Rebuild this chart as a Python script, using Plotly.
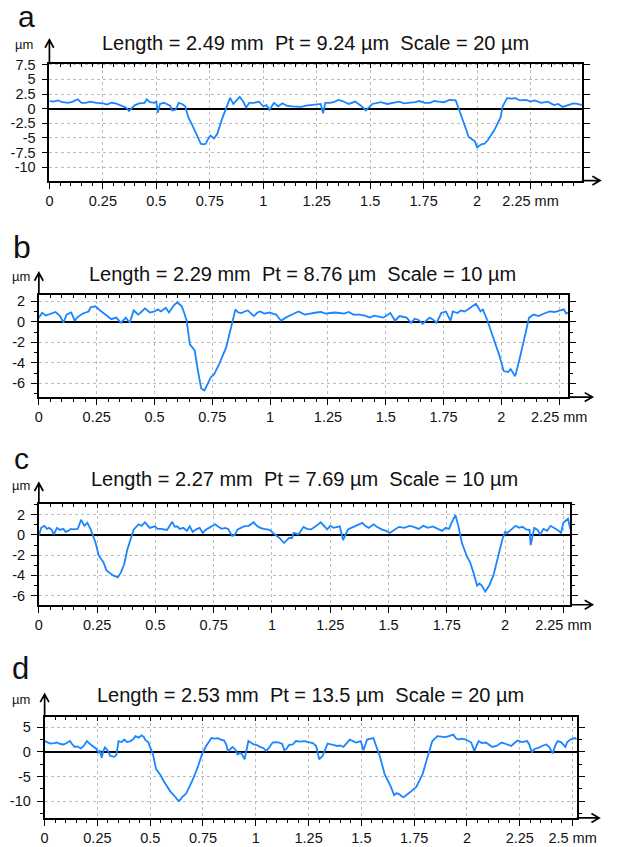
import plotly.graph_objects as go

W, H = 623, 847
OFF = 8  # page body margin in the browser

# ---------------- data ----------------
xa = [0.0,0.02,0.04,0.06,0.088,0.11,0.133,0.15,0.17,0.19,0.22,0.25,0.27,0.29,0.31,0.33,0.357,0.372,0.385,0.40,
      0.42,0.445,0.455,0.47,0.49,0.50,0.507,0.517,0.535,0.55,0.565,0.574,0.59,0.605,0.62,0.635,0.65,0.673,0.695,0.708,
      0.72,0.731,0.745,0.753,0.77,0.785,0.807,0.822,0.835,0.845,0.86,0.875,0.89,0.905,0.92,0.935,0.955,0.98,1.0,1.015,
      1.03,1.05,1.07,1.09,1.11,1.134,1.16,1.179,1.2,1.224,1.25,1.269,1.28,1.29,1.31,1.33,1.35,1.37,1.40,1.43,
      1.46,1.48,1.51,1.53,1.55,1.58,1.61,1.635,1.66,1.69,1.71,1.73,1.755,1.78,1.80,1.82,1.845,1.87,1.90,1.91,
      1.93,1.95,1.96,1.99,2.00,2.01,2.02,2.035,2.05,2.08,2.11,2.12,2.14,2.16,2.18,2.20,2.23,2.25,2.27,2.30,
      2.33,2.36,2.38,2.40,2.42,2.45,2.47,2.49]
ya = [1.3,1.2,1.4,1.1,1.0,1.2,1.6,1.0,1.0,1.2,1.0,0.9,0.7,1.0,0.9,0.6,0.2,-0.4,0.1,0.6,
      0.9,1.0,1.6,1.1,1.0,1.2,-0.7,0.8,1.0,0.8,0.5,-0.3,-0.2,1.0,0.8,0.4,-1.5,-3.2,-5.1,-6.0,
      -6.1,-6.0,-5.0,-4.6,-5.1,-4.3,-1.8,-0.4,1.0,1.85,0.8,1.5,2.0,1.3,0.2,1.0,1.0,1.2,0.4,0.6,
      -0.2,1.0,0.4,0.9,0.5,0.4,0.3,0.3,0.5,0.6,0.7,0.8,-0.8,1.0,1.0,1.1,1.5,1.3,0.8,1.2,
      0.4,-0.3,0.8,0.9,1.1,0.8,1.0,1.2,0.9,1.0,1.1,1.3,1.0,1.0,1.3,1.2,1.1,1.5,1.4,0.4,
      -1.5,-3.7,-4.8,-5.6,-6.6,-6.3,-6.1,-6.0,-5.4,-3.7,-1.5,0.4,1.8,1.7,1.8,1.4,1.5,1.2,1.4,1.0,
      1.2,0.6,0.8,0.3,0.5,0.9,0.8,0.6]

xb = [0.0,0.014,0.03,0.044,0.06,0.072,0.085,0.093,0.106,0.12,0.14,0.155,0.165,0.175,0.19,0.203,0.215,0.224,0.245,0.265,
      0.286,0.30,0.314,0.335,0.355,0.376,0.393,0.41,0.43,0.445,0.459,0.48,0.50,0.515,0.528,0.549,0.563,0.584,0.598,0.608,
      0.618,0.628,0.639,0.653,0.674,0.688,0.702,0.716,0.726,0.735,0.744,0.758,0.78,0.81,0.82,0.836,0.85,0.862,0.876,0.89,
      0.904,0.918,0.93,0.945,0.957,0.975,0.998,1.012,1.026,1.047,1.067,1.095,1.123,1.15,1.178,1.2,1.22,1.24,1.26,1.28,
      1.30,1.32,1.34,1.36,1.385,1.41,1.43,1.45,1.47,1.49,1.52,1.54,1.56,1.59,1.61,1.625,1.64,1.66,1.69,1.705,
      1.72,1.74,1.76,1.78,1.79,1.81,1.825,1.84,1.855,1.87,1.89,1.91,1.92,1.94,1.96,1.99,2.01,2.03,2.04,2.05,
      2.06,2.08,2.10,2.12,2.14,2.16,2.19,2.21,2.23,2.25,2.27,2.28,2.29]
yb = [0.4,0.87,0.6,0.7,0.8,0.95,0.7,0.5,-0.1,0.7,0.9,0.1,0.4,0.55,0.8,0.9,1.0,1.4,1.5,1.1,
      0.7,0.5,0.25,0.4,-0.1,0.4,-0.1,1.1,0.7,1.0,1.3,0.9,1.0,1.2,1.0,1.35,0.9,1.6,1.9,1.7,
      1.5,0.9,0.1,-2.2,-2.8,-4.8,-6.5,-6.7,-6.2,-5.9,-5.4,-5.1,-4.1,-2.5,-1.5,0.1,1.2,0.9,0.85,1.0,
      1.1,0.8,0.55,0.9,1.0,0.8,0.9,0.8,0.7,0.1,0.4,0.7,1.0,0.7,0.85,0.9,0.95,0.8,0.85,0.9,
      0.85,0.8,0.95,0.7,0.7,0.6,0.4,0.6,0.5,0.4,0.85,0.1,0.55,0.4,-0.1,0.3,0.2,-0.2,0.4,0.2,
      -0.1,0.85,1.0,0.1,1.0,0.85,1.1,1.0,1.2,1.4,1.75,1.0,1.2,0.1,-1.2,-3.2,-4.8,-4.9,-4.6,-5.0,
      -5.3,-3.5,-1.5,0.4,0.7,0.55,0.85,1.0,0.95,1.1,1.2,0.8,0.9]

xc = [0.0,0.01,0.023,0.035,0.044,0.055,0.064,0.078,0.09,0.105,0.115,0.126,0.137,0.147,0.167,0.181,0.195,0.208,0.222,0.243,
      0.257,0.277,0.29,0.305,0.318,0.33,0.339,0.352,0.366,0.38,0.393,0.407,0.428,0.44,0.455,0.476,0.497,0.51,0.524,0.55,
      0.572,0.583,0.593,0.605,0.62,0.635,0.647,0.66,0.675,0.69,0.703,0.715,0.73,0.745,0.757,0.77,0.785,0.80,0.812,0.829,
      0.84,0.853,0.867,0.88,0.90,0.922,0.935,0.95,0.965,0.976,0.99,1.004,1.02,1.032,1.052,1.065,1.073,1.086,1.093,1.114,
      1.135,1.15,1.168,1.19,1.209,1.237,1.25,1.264,1.291,1.305,1.326,1.34,1.353,1.37,1.388,1.40,1.415,1.436,1.45,1.47,
      1.49,1.505,1.526,1.545,1.567,1.59,1.608,1.63,1.649,1.67,1.69,1.71,1.73,1.745,1.76,1.77,1.787,1.80,1.815,1.836,
      1.85,1.864,1.88,1.89,1.90,1.915,1.932,1.95,1.97,1.99,2.0,2.01,2.03,2.045,2.06,2.075,2.09,2.105,2.11,2.125,
      2.14,2.15,2.165,2.18,2.195,2.21,2.225,2.24,2.25,2.26,2.27,2.28]
yc = [-0.1,0.7,0.9,0.6,0.7,0.5,0.05,0.7,0.5,0.6,0.3,0.4,0.6,0.55,0.6,1.5,0.9,1.2,0.55,-0.75,
      -2.05,-2.7,-3.5,-3.8,-4.0,-4.1,-4.2,-3.7,-2.9,-1.4,-0.4,0.55,1.05,0.9,1.25,0.7,0.85,0.6,0.6,0.5,
      1.3,0.8,0.85,0.6,0.7,0.4,0.85,0.3,0.55,0.7,0.2,0.5,0.7,0.9,1.05,0.8,0.6,0.7,0.6,-0.1,
      0.0,0.55,0.7,0.85,0.9,1.25,0.9,0.7,0.6,0.55,0.5,0.2,-0.1,-0.3,-0.8,-0.5,-0.3,-0.3,0.2,0.05,
      0.8,0.6,0.55,0.9,1.25,0.55,0.9,0.7,0.85,-0.5,0.55,0.7,0.85,1.0,1.2,0.9,0.7,1.05,0.8,0.55,
      0.4,0.2,0.55,0.8,0.7,0.9,0.8,0.6,0.9,0.7,0.85,0.6,0.4,0.7,0.6,1.2,1.95,0.85,-0.8,-2.1,
      -2.7,-3.7,-5.0,-4.8,-5.0,-5.6,-5.0,-4.0,-2.1,-0.3,0.3,0.2,0.6,0.9,0.7,0.8,0.55,0.5,-1.0,0.7,
      0.5,0.05,0.6,0.4,0.9,0.7,0.5,0.2,1.2,1.4,1.6,0.55]

xd = [0.0,0.015,0.027,0.045,0.058,0.075,0.09,0.105,0.12,0.13,0.142,0.155,0.172,0.185,0.2,0.215,0.23,0.245,0.254,0.262,
      0.27,0.278,0.286,0.30,0.31,0.33,0.34,0.35,0.365,0.377,0.39,0.407,0.42,0.43,0.445,0.46,0.47,0.476,0.49,0.498,
      0.513,0.528,0.55,0.565,0.58,0.595,0.612,0.625,0.635,0.645,0.65,0.67,0.685,0.7,0.725,0.745,0.765,0.78,0.79,0.805,
      0.82,0.835,0.85,0.86,0.868,0.88,0.89,0.905,0.913,0.925,0.935,0.947,0.955,0.965,0.98,0.99,1.005,1.02,1.035,1.05,
      1.065,1.08,1.095,1.11,1.125,1.135,1.145,1.157,1.175,1.19,1.21,1.233,1.248,1.27,1.286,1.30,1.317,1.34,1.36,1.385,
      1.40,1.415,1.445,1.46,1.475,1.497,1.51,1.527,1.545,1.557,1.57,1.587,1.61,1.64,1.655,1.665,1.678,1.69,1.70,1.715,
      1.73,1.76,1.79,1.815,1.836,1.86,1.88,1.897,1.915,1.935,1.945,1.957,1.975,1.995,2.02,2.035,2.055,2.07,2.09,2.105,
      2.12,2.14,2.164,2.185,2.21,2.225,2.24,2.26,2.285,2.295,2.307,2.32,2.338,2.355,2.376,2.39,2.406,2.42,2.43,2.445,
      2.466,2.475,2.49,2.51,2.52]
yd = [2.2,1.9,1.7,1.8,1.9,1.6,1.5,1.8,2.2,1.6,1.0,1.1,0.7,1.2,2.2,1.6,1.0,0.6,-0.1,0.3,
      -1.2,0.2,0.9,0.2,-0.8,-1.0,-0.6,2.2,2.0,2.5,2.0,2.2,2.6,3.2,2.9,3.35,3.0,2.5,2.0,1.2,
      -0.5,-3.5,-4.8,-6.0,-7.1,-8.0,-8.8,-9.5,-10.0,-9.6,-9.2,-8.5,-7.2,-5.8,-3.1,-0.5,1.2,2.2,2.8,2.7,
      2.8,2.5,2.3,1.5,0.2,0.6,1.0,0.4,-0.5,-0.2,-0.5,-1.5,0.3,2.2,1.8,1.5,1.4,1.0,0.8,0.2,
      1.0,1.9,2.0,1.9,1.6,0.35,0.6,1.4,1.5,2.2,2.1,2.2,2.0,1.8,1.2,-1.5,-0.8,1.7,1.5,1.2,
      1.3,1.0,2.5,2.2,1.9,2.2,0.35,2.5,2.6,2.8,1.2,-0.8,-4.5,-7.1,-8.8,-8.4,-8.5,-9.0,-9.2,-8.6,
      -8.2,-7.1,-4.5,-0.8,2.2,3.2,3.1,3.0,3.2,3.5,2.9,2.5,2.7,2.5,1.9,0.2,2.2,1.8,1.9,1.5,
      1.0,1.2,1.9,1.6,1.2,1.8,2.3,2.0,2.2,1.5,-0.1,0.6,0.8,1.2,1.5,1.0,-0.3,1.5,2.2,2.0,
      1.0,2.0,2.5,2.8,2.6]

titles = ["Length = 2.49 mm  Pt = 9.24 µm  Scale = 20 µm",
          "Length = 2.29 mm  Pt = 8.76 µm  Scale = 10 µm",
          "Length = 2.27 mm  Pt = 7.69 µm  Scale = 10 µm",
          "Length = 2.53 mm  Pt = 13.5 µm  Scale = 20 µm"]
letters = ["a", "b", "c", "d"]

xt_ab = [0, 0.25, 0.5, 0.75, 1, 1.25, 1.5, 1.75, 2, 2.25]
xl_ab = ["0", "0.25", "0.5", "0.75", "1", "1.25", "1.5", "1.75", "2", "2.25 mm"]
xt_d = [0, 0.25, 0.5, 0.75, 1, 1.25, 1.5, 1.75, 2, 2.25, 2.5]
xl_d = ["0", "0.25", "0.5", "0.75", "1", "1.25", "1.5", "1.75", "2", "2.25", "2.5 mm"]

yt_a = [7.5, 5, 2.5, 0, -2.5, -5, -7.5, -10]
yl_a = ["7.5", "5", "2.5", "0", "-2.5", "-5", "-7.5", "-10"]
yt_bc = [2, 0, -2, -4, -6]
yl_bc = ["2", "0", "-2", "-4", "-6"]
yt_d = [5, 0, -5, -10]
yl_d = ["5", "0", "-5", "-10"]

# ---------------- layout geometry (page pixels) ----------------
panels = [
    dict(x=xa, y=ya, px=(47, 602), py=(57, 175), xr=[0, 2.49], yr=[-12.3, 7.7],
         xt=xt_ab, xl=xl_ab, yt=yt_a, yl=yl_a, yminor=None,
         title_c=(324, 36), letter=(23, 10, 30), mu=(21, 38), xtip=621, ytip=33),
    dict(x=xb, y=yb, px=(36, 588), py=(290, 393.3), xr=[0, 2.29], yr=[-7.34, 2.64],
         xt=xt_ab, xl=xl_ab, yt=yt_bc, yl=yl_bc, yminor=1,
         title_c=(311, 269), letter=(18, 242, 32), mu=(17, 272), xtip=613, ytip=268),
    dict(x=xc, y=yc, px=(36, 590), py=(500.7, 602.7), xr=[0, 2.28], yr=[-6.9, 3.1],
         xt=xt_ab, xl=xl_ab, yt=yt_bc, yl=yl_bc, yminor=1,
         title_c=(313, 476), letter=(18, 455, 30), mu=(17, 482), xtip=613, ytip=480),
    dict(x=xd, y=yd, px=(42, 596.7), py=(716.3, 817.7), xr=[0, 2.52], yr=[-13.4, 7.0],
         xt=xt_d, xl=xl_d, yt=yt_d, yl=yl_d, yminor=2.5,
         title_c=(319, 694), letter=(17, 667, 31), mu=(17, 698), xtip=620, ytip=693),
]

FW, FH = W - OFF, H - OFF


def PX(v):
    return (v - OFF) / FW


def PY(v):
    return 1 - (v - OFF) / FH


FONT = "Liberation Sans, Arial, sans-serif"
BLUE = "#1a85ff"

fig = go.Figure()
layout = dict(width=FW, height=FH, margin=dict(l=0, r=0, t=0, b=0), autosize=False,
              paper_bgcolor="white", plot_bgcolor="white", showlegend=False,
              font=dict(family=FONT, color="#111111"))
annotations = []
shapes = []

for i, p in enumerate(panels):
    n = i + 1
    sfx = "" if n == 1 else str(n)
    tn = str(n + 4)
    fig.add_trace(go.Scatter(x=p["x"], y=p["y"], mode="lines",
                             line=dict(color=BLUE, width=1.8),
                             xaxis="x" + sfx, yaxis="y" + sfx, hoverinfo="skip"))
    # empty trace to host the inward top-tick axis
    fig.add_trace(go.Scatter(x=[], y=[], xaxis="x" + tn, yaxis="y" + sfx, hoverinfo="skip"))
    xdom = [PX(p["px"][0]), PX(p["px"][1])]
    ydom = [PY(p["py"][1]), PY(p["py"][0])]
    yanchor = "y" + sfx
    xanchor = "x" + sfx
    layout["xaxis" + sfx] = dict(
        domain=xdom, anchor=yanchor, range=p["xr"], tickmode="array",
        tickvals=p["xt"], ticktext=p["xl"], ticks="outside", ticklen=6, tickwidth=1.3,
        tickcolor="black", showline=True, linecolor="black", linewidth=1.8, mirror=True,
        showgrid=True, gridcolor="#bdbdbd", griddash="dot", gridwidth=1,
        zeroline=False, tickfont=dict(size=14.5, family=FONT, color="#111111"),
        ticklabelstandoff=0,
        minor=dict(dtick=0.05, tick0=0, ticklen=3, ticks="outside", tickcolor="black",
                   tickwidth=1.2, showgrid=False),
        fixedrange=True)
    layout["xaxis" + tn] = dict(
        domain=xdom, anchor=yanchor, overlaying=xanchor, side="top", range=p["xr"],
        tickmode="array", tickvals=p["xt"], ticks="inside", ticklen=4, tickwidth=1.2,
        tickcolor="black", showticklabels=False, showline=False, showgrid=False,
        zeroline=False,
        minor=dict(dtick=0.05, tick0=0, ticklen=3, ticks="inside", tickcolor="black",
                   tickwidth=1.2, showgrid=False),
        fixedrange=True)
    yax = dict(
        domain=ydom, anchor=xanchor, range=p["yr"], tickmode="array",
        tickvals=p["yt"], ticktext=p["yl"], ticks="outside", ticklen=6, tickwidth=1.3,
        tickcolor="black", showline=True, linecolor="black", linewidth=1.8,
        mirror="ticks", showgrid=True, gridcolor="#bdbdbd", griddash="dot", gridwidth=1,
        zeroline=True, zerolinecolor="black", zerolinewidth=1.6,
        tickfont=dict(size=14.5, family=FONT, color="#111111"), ticklabelstandoff=3,
        fixedrange=True)
    if p["yminor"]:
        yax["minor"] = dict(dtick=p["yminor"], tick0=0, ticklen=3, ticks="outside",
                            tickcolor="black", tickwidth=1.2, showgrid=False)
    layout["yaxis" + sfx] = yax

    # axis arrow extensions
    x0, x1 = p["px"]
    y0, y1 = p["py"]
    yt = p["ytip"]
    xt = p["xtip"]
    path_v = (f"M {PX(x0)},{PY(y0)} L {PX(x0)},{PY(yt)} "
              f"M {PX(x0-4.5)},{PY(yt+8)} L {PX(x0)},{PY(yt)} L {PX(x0+4.5)},{PY(yt+8)}")
    path_h = (f"M {PX(x1)},{PY(y1)} L {PX(xt)},{PY(y1)} "
              f"M {PX(xt-8)},{PY(y1-4.5)} L {PX(xt)},{PY(y1)} L {PX(xt-8)},{PY(y1+4.5)}")
    for pth in (path_v, path_h):
        shapes.append(dict(type="path", xref="paper", yref="paper", path=pth,
                           line=dict(color="black", width=1.7)))

    # texts
    tx, ty = p["title_c"]
    annotations.append(dict(text=titles[i], x=PX(tx), y=PY(ty), xref="paper", yref="paper",
                            xanchor="center", yanchor="middle", showarrow=False,
                            font=dict(size=20, family=FONT, color="#111111")))
    lx, ly, ls = p["letter"]
    annotations.append(dict(text=letters[i], x=PX(lx), y=PY(ly), xref="paper", yref="paper",
                            xanchor="center", yanchor="middle", showarrow=False,
                            font=dict(size=ls, family=FONT, color="#111111")))
    mx, my = p["mu"]
    annotations.append(dict(text="µm", x=PX(mx), y=PY(my), xref="paper", yref="paper",
                            xanchor="center", yanchor="middle", showarrow=False,
                            font=dict(size=13, family=FONT, color="#111111")))

layout["annotations"] = annotations
layout["shapes"] = shapes
fig.update_layout(**layout)
fig.write_html("out.html")
